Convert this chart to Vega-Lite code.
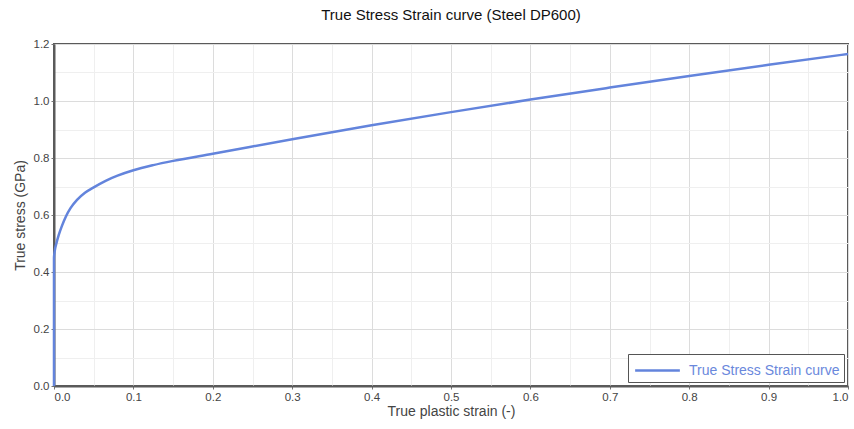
{
  "$schema": "https://vega.github.io/schema/vega-lite/v6.json",
  "width": 794,
  "height": 342,
  "autosize": "none",
  "padding": {"left": 54, "top": 44, "right": 6, "bottom": 43},
  "background": "white",
  "title": {"text": "True Stress Strain curve (Steel DP600)", "font": "Liberation Sans", "fontSize": 15, "fontWeight": "normal", "color": "#111", "offset": 15, "anchor": "middle"},
  "config": {
    "view": {"stroke": "#5a5a5a", "strokeWidth": 2},
    "axis": {"labelFont": "Liberation Sans", "labelFontSize": 11.5, "labelColor": "#444", "titleFont": "Liberation Sans", "titleFontSize": 14, "titleFontWeight": "normal", "titleColor": "#444", "domainColor": "#5a5a5a", "domainWidth": 2, "tickColor": "#777", "tickSize": 3, "gridColor": "#dcdcdc", "gridWidth": 1}
  },
  "data": {"values": [
    {"strain": 0.0, "stress": 0.0, "series": "True Stress Strain curve"},
    {"strain": 0.0, "stress": 0.45, "series": "True Stress Strain curve"},
    {"strain": 0.001, "stress": 0.475, "series": "True Stress Strain curve"},
    {"strain": 0.003, "stress": 0.5, "series": "True Stress Strain curve"},
    {"strain": 0.006, "stress": 0.53, "series": "True Stress Strain curve"},
    {"strain": 0.01, "stress": 0.562, "series": "True Stress Strain curve"},
    {"strain": 0.015, "stress": 0.595, "series": "True Stress Strain curve"},
    {"strain": 0.021, "stress": 0.625, "series": "True Stress Strain curve"},
    {"strain": 0.029, "stress": 0.653, "series": "True Stress Strain curve"},
    {"strain": 0.039, "stress": 0.678, "series": "True Stress Strain curve"},
    {"strain": 0.05, "stress": 0.697, "series": "True Stress Strain curve"},
    {"strain": 0.065, "stress": 0.72, "series": "True Stress Strain curve"},
    {"strain": 0.08, "stress": 0.738, "series": "True Stress Strain curve"},
    {"strain": 0.1, "stress": 0.757, "series": "True Stress Strain curve"},
    {"strain": 0.125, "stress": 0.775, "series": "True Stress Strain curve"},
    {"strain": 0.15, "stress": 0.79, "series": "True Stress Strain curve"},
    {"strain": 0.2, "stress": 0.815, "series": "True Stress Strain curve"},
    {"strain": 0.3, "stress": 0.866, "series": "True Stress Strain curve"},
    {"strain": 0.4, "stress": 0.915, "series": "True Stress Strain curve"},
    {"strain": 0.5, "stress": 0.961, "series": "True Stress Strain curve"},
    {"strain": 0.6, "stress": 1.005, "series": "True Stress Strain curve"},
    {"strain": 0.7, "stress": 1.047, "series": "True Stress Strain curve"},
    {"strain": 0.8, "stress": 1.088, "series": "True Stress Strain curve"},
    {"strain": 0.9, "stress": 1.127, "series": "True Stress Strain curve"},
    {"strain": 1.0, "stress": 1.165, "series": "True Stress Strain curve"}
  ]},
  "resolve": {"axis": {"x": "independent", "y": "independent"}},
  "layer": [
    {
      "mark": {"type": "line", "opacity": 0},
      "encoding": {
        "x": {"field": "strain", "type": "quantitative", "scale": {"domain": [0, 1]},
          "axis": {"orient": "bottom", "values": [0.05, 0.15, 0.25, 0.35, 0.45, 0.55, 0.65, 0.75, 0.85, 0.95], "labels": false, "ticks": false, "domain": false, "title": null, "grid": true, "gridColor": "#efefef"}},
        "y": {"field": "stress", "type": "quantitative", "scale": {"domain": [0, 1.2]},
          "axis": {"orient": "left", "values": [0.1, 0.3, 0.5, 0.7, 0.9, 1.1], "labels": false, "ticks": false, "domain": false, "title": null, "grid": true, "gridColor": "#efefef"}}
      }
    },
    {
      "mark": {"type": "line", "strokeWidth": 2.5, "interpolate": "monotone"},
      "encoding": {
        "x": {"field": "strain", "type": "quantitative", "scale": {"domain": [0, 1]},
          "axis": {"orient": "bottom", "values": [0, 0.1, 0.2, 0.3, 0.4, 0.5, 0.6, 0.7, 0.8, 0.9, 1.0], "format": ".1f", "title": "True plastic strain (-)", "titlePadding": 2, "labelPadding": 2, "grid": true}},
        "y": {"field": "stress", "type": "quantitative", "scale": {"domain": [0, 1.2]},
          "axis": {"orient": "left", "values": [0, 0.2, 0.4, 0.6, 0.8, 1.0, 1.2], "format": ".1f", "title": "True stress (GPa)", "titlePadding": 6, "labelPadding": 2, "grid": true}},
        "color": {"field": "series", "type": "nominal", "scale": {"range": ["#6384dc"]},
          "legend": {"title": null, "orient": "bottom-right", "offset": 4, "symbolType": "M-2,0H2", "symbolSize": 500, "symbolStrokeWidth": 2.5, "symbolFillColor": "transparent", "symbolOffset": 13, "labelOffset": 19, "labelFont": "Liberation Sans", "labelFontSize": 14, "labelColor": "#6a88dc", "strokeColor": "#555", "fillColor": "white", "padding": 4}}
      }
    }
  ]
}
